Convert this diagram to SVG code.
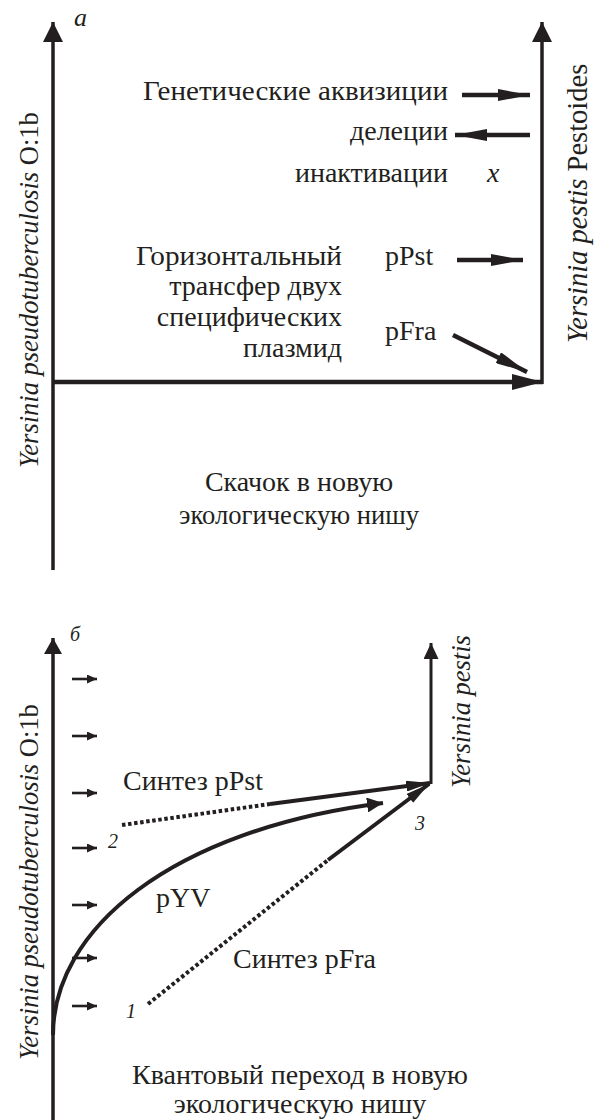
<svg xmlns="http://www.w3.org/2000/svg" width="598" height="1120" viewBox="0 0 598 1120">
<style>
  text { font-family: 'Liberation Serif', 'DejaVu Serif', serif; fill: #231f20; }
  .t { font-size: 28px; }
  .lab { font-size: 26.5px; }
  .it { font-style: italic; }
  .num { font-size: 20px; font-style: italic; }
  .ln { stroke: #231f20; fill: none; }
  .dot { stroke: #231f20; fill: none; stroke-width: 4; stroke-dasharray: 3.5 2.6; }
</style>
<defs>
  <marker id="ah" markerUnits="userSpaceOnUse" viewBox="0 0 20 20" markerWidth="20" markerHeight="20" refX="20" refY="10" orient="auto"><path d="M0,0 L20,10 L0,20 z" fill="#231f20"/></marker>
  <marker id="ahl" markerUnits="userSpaceOnUse" viewBox="0 0 31 16" markerWidth="31" markerHeight="16" refX="31" refY="8" orient="auto"><path d="M0,0 L31,8 L0,16 z" fill="#231f20"/></marker>
  <marker id="am" markerUnits="userSpaceOnUse" viewBox="0 0 32 12" markerWidth="32" markerHeight="12" refX="32" refY="6" orient="auto"><path d="M0,0 L32,6 L0,12 z" fill="#231f20"/></marker>
  <marker id="bh" markerUnits="userSpaceOnUse" viewBox="0 0 16 18" markerWidth="16" markerHeight="18" refX="16" refY="9" orient="auto"><path d="M0,0 L16,9 L0,18 z" fill="#231f20"/></marker>
  <marker id="bs" markerUnits="userSpaceOnUse" viewBox="0 0 24 11" markerWidth="24" markerHeight="11" refX="24" refY="5.5" orient="auto"><path d="M0,0 L24,5.5 L0,11 z" fill="#231f20"/></marker>
  <marker id="bv" markerUnits="userSpaceOnUse" viewBox="0 0 16 15" markerWidth="16" markerHeight="15" refX="16" refY="7.5" orient="auto"><path d="M0,0 L16,7.5 L0,15 z" fill="#231f20"/></marker>
  <marker id="sm" markerUnits="userSpaceOnUse" viewBox="0 0 10 9" markerWidth="10" markerHeight="9" refX="10" refY="4.5" orient="auto"><path d="M0,0 L10,4.5 L0,9 z" fill="#231f20"/></marker>
</defs>

<g id="connectors">
  <line class="ln" x1="53" y1="570" x2="53" y2="22" stroke-width="3.5" marker-end="url(#ah)"/>
  <line class="ln" x1="52" y1="382" x2="543" y2="382" stroke-width="4.5" marker-end="url(#ahl)"/>
  <line class="ln" x1="542" y1="384" x2="542" y2="22" stroke-width="3.5" marker-end="url(#ah)"/>
  <line class="ln" x1="462" y1="95" x2="530" y2="95" stroke-width="4.5" marker-end="url(#am)"/>
  <line class="ln" x1="530" y1="135" x2="455" y2="135" stroke-width="4.5" marker-end="url(#am)"/>
  <line class="ln" x1="457" y1="260" x2="523" y2="260" stroke-width="4.5" marker-end="url(#am)"/>
  <line class="ln" x1="453" y1="335" x2="527" y2="372" stroke-width="4.5" marker-end="url(#am)"/>
  <line class="ln" x1="53" y1="1120" x2="53" y2="638" stroke-width="3.5" marker-end="url(#bh)"/>
  <line class="ln" x1="431" y1="784" x2="431" y2="643" stroke-width="3" marker-end="url(#bv)"/>
  <line class="ln" x1="72" y1="679" x2="97" y2="679" stroke-width="2.6" marker-end="url(#sm)"/>
  <line class="ln" x1="72" y1="736" x2="97" y2="736" stroke-width="2.6" marker-end="url(#sm)"/>
  <line class="ln" x1="72" y1="793" x2="97" y2="793" stroke-width="2.6" marker-end="url(#sm)"/>
  <line class="ln" x1="72" y1="848" x2="97" y2="848" stroke-width="2.6" marker-end="url(#sm)"/>
  <line class="ln" x1="72" y1="905" x2="97" y2="905" stroke-width="2.6" marker-end="url(#sm)"/>
  <line class="ln" x1="72" y1="958" x2="97" y2="958" stroke-width="2.6" marker-end="url(#sm)"/>
  <line class="ln" x1="72" y1="1006" x2="97" y2="1006" stroke-width="2.6" marker-end="url(#sm)"/>
  <line class="dot" x1="122" y1="825" x2="270" y2="804"/>
  <line class="ln" x1="270" y1="804" x2="430" y2="783" stroke-width="4" marker-end="url(#bs)"/>
  <path class="ln" d="M53,1035 C53,930 170,830 383,803" stroke-width="4" marker-end="url(#bv)"/>
  <line class="dot" x1="148" y1="1004" x2="328" y2="860"/>
  <line class="ln" x1="328" y1="860" x2="429" y2="784" stroke-width="4" marker-end="url(#bs)"/>
</g>

<g id="panel-a-labels">
  <text class="it" x="74" y="26" font-size="26">а</text>
  <text class="lab" transform="translate(38,468) rotate(-90)"><tspan class="it">Yersinia pseudotuberculosis</tspan> O:1b</text>
  <text class="lab" style="font-size:28.5px" transform="translate(587,343) rotate(-90)"><tspan class="it">Yersinia pestis</tspan>  Pestoides</text>
</g>

<g id="node-acq"><text class="t" x="448" y="100" text-anchor="end" textLength="305" lengthAdjust="spacingAndGlyphs">Генетические аквизиции</text></g>
<g id="node-del"><text class="t" x="448" y="140" text-anchor="end">делеции</text></g>
<g id="node-inact">
  <text class="t" x="448" y="182" text-anchor="end">инактивации</text>
  <text class="t it" x="487" y="182">x</text>
</g>
<g id="node-transfer">
  <text class="t" x="342" y="265" text-anchor="end" textLength="206" lengthAdjust="spacingAndGlyphs">Горизонтальный</text>
  <text class="t" x="342" y="295" text-anchor="end">трансфер двух</text>
  <text class="t" x="342" y="326" text-anchor="end">специфических</text>
  <text class="t" x="342" y="357" text-anchor="end">плазмид</text>
</g>
<g id="node-ppst-a"><text class="t" x="385" y="265">pPst</text></g>
<g id="node-pfra-a"><text class="t" x="385" y="340">pFra</text></g>
<g id="node-jump">
  <text class="t" x="299" y="491" text-anchor="middle">Скачок в новую</text>
  <text class="t" x="299" y="524" text-anchor="middle" textLength="240" lengthAdjust="spacingAndGlyphs">экологическую нишу</text>
</g>

<g id="panel-b-labels">
  <text class="it" x="70" y="641" font-size="20">б</text>
  <text class="lab" transform="translate(38,1060) rotate(-90)"><tspan class="it">Yersinia pseudotuberculosis</tspan> O:1b</text>
  <text class="lab it" transform="translate(470,788) rotate(-90)">Yersinia pestis</text>
</g>
<g id="node-2"><text class="num" x="108" y="848">2</text></g>
<g id="node-1"><text class="num" x="126" y="1018">1</text></g>
<g id="node-3"><text class="num" x="415" y="830">3</text></g>
<g id="node-synth-ppst"><text class="t" x="123" y="790">Синтез pPst</text></g>
<g id="node-pyv"><text class="t" x="156" y="907">pYV</text></g>
<g id="node-synth-pfra"><text class="t" x="233" y="968">Синтез pFra</text></g>
<g id="node-quantum">
  <text class="t" x="300" y="1084" text-anchor="middle">Квантовый переход в новую</text>
  <text class="t" x="300" y="1113" text-anchor="middle">экологическую нишу</text>
</g>
</svg>
